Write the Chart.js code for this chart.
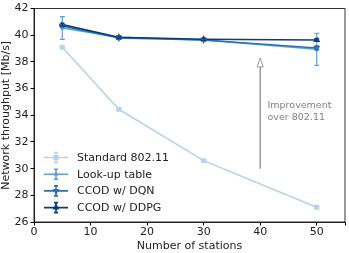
<!DOCTYPE html>
<html>
<head>
<meta charset="utf-8">
<script src="https://cdn.jsdelivr.net/npm/chart.js@4/dist/chart.umd.min.js"></script>
<style>
  html, body { margin: 0; padding: 0; background: #fff; }
  #wrap { width: 349px; height: 253px; }
</style>
</head>
<body>
<div id="wrap"><canvas id="c" width="349" height="253"></canvas></div>
<script>
// number of stations
const stations = [5, 15, 30, 50];

// throughput [Mb/s]
const standard = [39.1, 34.45, 30.6, 27.1];
const lookup   = [40.55, 39.85, 39.65, 38.95];
const dqn      = [40.7, 39.8, 39.65, 39.05];
const ddpg     = [40.8, 39.85, 39.7, 39.65];

// std deviation (error bars)
const standardErr = [0.05, 0.05, 0.05, 0.05];
const lookupErr   = [0.85, 0.12, 0.08, 1.2];
const dqnErr      = [0.1, 0.1, 0.08, 0.15];
const ddppErr     = [0.1, 0.1, 0.08, 0.1];

const labels = ['Standard 802.11', 'Look-up table', 'CCOD w/ DQN', 'CCOD w/ DDPG'];
const colors = ['#b4d3ea', '#5ea2d0', '#2a72b3', '#0c3c7e'];
const FONT = 'DejaVu Sans';
const FS = 11;

const toPts = arr => stations.map((s, i) => ({ x: s, y: arr[i] }));

function mkSet(i, vals, errs, style, radius, rot) {
    return {
        label: labels[i],
        data: toPts(vals),
        errs: errs,
        borderColor: colors[i],
        backgroundColor: colors[i],
        borderWidth: 1.6,
        pointStyle: style,
        pointRadius: radius,
        pointRotation: rot || 0,
        pointBorderWidth: 0,
        order: 4 - i
    };
}

// error bars, annotation, frame, legend
const extras = {
    id: 'extras',
    afterDatasetsDraw(chart) {
        const ctx = chart.ctx, xs = chart.scales.x, ys = chart.scales.y;
        const area = chart.chartArea;
        ctx.save();
        // error bars
        chart.data.datasets.forEach(ds => {
            ctx.strokeStyle = ds.borderColor;
            ctx.lineWidth = 1.2;
            ds.data.forEach((p, i) => {
                const e = ds.errs[i];
                const px = xs.getPixelForValue(p.x);
                const y1 = ys.getPixelForValue(p.y + e), y2 = ys.getPixelForValue(p.y - e);
                ctx.beginPath();
                ctx.moveTo(px, y1); ctx.lineTo(px, y2);
                ctx.moveTo(px - 2.5, y1); ctx.lineTo(px + 2.5, y1);
                ctx.moveTo(px - 2.5, y2); ctx.lineTo(px + 2.5, y2);
                ctx.stroke();
            });
        });
        // arrow
        const ax = xs.getPixelForValue(40);
        const ay0 = ys.getPixelForValue(30), ay1 = ys.getPixelForValue(38.3);
        ctx.strokeStyle = '#808080';
        ctx.fillStyle = '#fff';
        ctx.lineWidth = 1.2;
        ctx.beginPath();
        ctx.moveTo(ax, ay0); ctx.lineTo(ax, ay1 + 9);
        ctx.stroke();
        ctx.beginPath();
        ctx.moveTo(ax, ay1); ctx.lineTo(ax - 3, ay1 + 9); ctx.lineTo(ax + 3, ay1 + 9); ctx.closePath();
        ctx.fill(); ctx.lineWidth = 0.8; ctx.stroke();
        ctx.fillStyle = '#808080';
        ctx.font = '9.5px ' + FONT;
        ctx.textBaseline = 'middle';
        ctx.textAlign = 'left';
        const tx = xs.getPixelForValue(41.3);
        ctx.fillText('Improvement', tx, ys.getPixelForValue(34.7));
        ctx.fillText('over 802.11', tx, ys.getPixelForValue(33.8));
        // frame
        ctx.strokeStyle = '#000';
        ctx.lineWidth = 0.8;
        ctx.strokeRect(area.left, area.top, area.right - area.left, area.bottom - area.top);
        // legend
        ctx.font = FS + 'px ' + FONT;
        chart.data.datasets.forEach((ds, i) => {
            const ly = 157.5 + i * 16.7;
            ctx.strokeStyle = ds.borderColor;
            ctx.lineWidth = 1.6;
            ctx.beginPath();
            ctx.moveTo(44, ly); ctx.lineTo(68, ly);
            ctx.moveTo(56, ly - 5); ctx.lineTo(56, ly + 5);
            ctx.moveTo(54, ly - 5); ctx.lineTo(58, ly - 5);
            ctx.moveTo(54, ly + 5); ctx.lineTo(58, ly + 5);
            ctx.stroke();
            ctx.fillStyle = ds.backgroundColor;
            Chart.helpers.drawPoint(ctx, { pointStyle: ds.pointStyle, radius: ds.pointRadius, rotation: ds.pointRotation, borderWidth: 0 }, 56, ly);
            ctx.fillStyle = '#222';
            ctx.fillText(ds.label, 77, ly + 0.5);
        });
        ctx.restore();
    }
};

new Chart(document.getElementById('c'), {
    type: 'line',
    data: {
        datasets: [
            mkSet(0, standard, standardErr, 'rect', 3.5),
            mkSet(1, lookup, lookupErr, 'circle', 2),
            mkSet(2, dqn, dqnErr, 'triangle', 4, 180),
            mkSet(3, ddpg, ddppErr, 'triangle', 4)
        ]
    },
    options: {
        responsive: false,
        animation: false,
        layout: { padding: { top: 4, right: 1, left: 0, bottom: 0 } },
        plugins: { legend: { display: false }, tooltip: { enabled: false } },
        scales: {
            x: {
                type: 'linear',
                min: 0, max: 55,
                afterFit: s => { s.height = 31; },
                ticks: { stepSize: 10, color: '#222', font: { family: FONT, size: FS }, padding: 0, maxRotation: 0,
                         callback: v => (v % 10 === 0 ? v : '') },
                grid: { drawOnChartArea: false, drawTicks: true, tickLength: 3.5, color: '#000' },
                border: { color: '#000', width: 0.8 },
                title: { display: true, text: 'Number of stations', color: '#222', font: { family: FONT, size: FS }, padding: { top: 0, bottom: 0 } }
            },
            y: {
                min: 26, max: 42,
                afterFit: s => { s.width = 34; },
                ticks: { stepSize: 2, color: '#222', font: { family: FONT, size: FS }, padding: 2 },
                grid: { drawOnChartArea: false, drawTicks: true, tickLength: 3.5, color: '#000' },
                border: { color: '#000', width: 0.8 },
                title: { display: true, text: 'Network throughput [Mb/s]', color: '#222', font: { family: FONT, size: FS }, padding: { top: 0, bottom: 0 } }
            }
        }
    },
    plugins: [extras]
});
</script>
</body>
</html>
